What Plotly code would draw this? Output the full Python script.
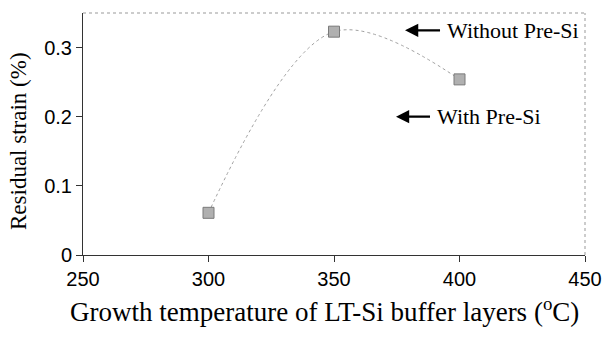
import plotly.graph_objects as go

temps = [300, 350, 400]
strain = [0.061, 0.323, 0.254]
x_ticks = [250, 300, 350, 400, 450]
y_ticks = [0, 0.1, 0.2, 0.3]
y_tick_text = ["0", "0.1", "0.2", "0.3"]

fig = go.Figure()
fig.add_trace(go.Scatter(
    x=temps, y=strain, mode="lines+markers",
    line=dict(shape="spline", smoothing=1.0, color="#a0a0a0", width=1, dash="dot"),
    marker=dict(symbol="square", size=11, color="#b0b0b0", line=dict(color="#7a7a7a", width=1)),
    showlegend=False,
))

serif = "Liberation Serif, Times New Roman, serif"
sans = "Liberation Sans, Arial, sans-serif"

fig.update_layout(
    width=607, height=337,
    margin=dict(l=83, r=22, t=13, b=82),
    plot_bgcolor="white", paper_bgcolor="white",
    xaxis=dict(range=[250, 450], tickvals=x_ticks, ticks="outside", ticklen=6,
               tickcolor="#333", showline=True, linecolor="#333", linewidth=1,
               showgrid=False, zeroline=False, automargin=False,
               tickfont=dict(family=sans, size=20, color="black")),
    yaxis=dict(range=[0, 0.35], tickvals=y_ticks, ticktext=y_tick_text, ticks="outside", ticklen=6,
               tickcolor="#333", showline=True, linecolor="#333", linewidth=1,
               showgrid=False, zeroline=False, automargin=False,
               tickfont=dict(family=sans, size=20, color="black")),
    shapes=[
        dict(type="line", xref="paper", yref="paper", x0=0, x1=1, y0=1, y1=1,
             line=dict(color="#999", width=1, dash="dot")),
        dict(type="line", xref="paper", yref="paper", x0=1, x1=1, y0=0, y1=1,
             line=dict(color="#999", width=1, dash="dot")),
    ],
)

# axis titles
fig.add_annotation(x=0.482, y=-0.227, xref="paper", yref="paper", showarrow=False,
                   text="Growth temperature of LT-Si buffer layers (<sup>o</sup>C)",
                   xanchor="center", yanchor="middle",
                   font=dict(family=serif, size=27, color="black"))
fig.add_annotation(x=-0.1295, y=0.471, xref="paper", yref="paper", showarrow=False,
                   text="Residual strain (%)", textangle=-90,
                   xanchor="center", yanchor="middle",
                   font=dict(family=serif, size=23, color="black"))

for (xa, ya, off, txt) in [(378.3, 0.325, 35, "Without Pre-Si"), (374.7, 0.2, 34, "With Pre-Si")]:
    fig.add_annotation(x=xa, y=ya, xref="x", yref="y", ax=off, ay=0, axref="pixel", ayref="pixel",
                       text=txt, showarrow=True, arrowhead=2, arrowsize=1.2, arrowwidth=2.2,
                       arrowcolor="black", xanchor="left", yanchor="middle", borderpad=6,
                       font=dict(family=serif, size=22, color="black"))

fig.write_html("out.html", config={"displayModeBar": False},
               post_script="document.body.style.margin='0';")
